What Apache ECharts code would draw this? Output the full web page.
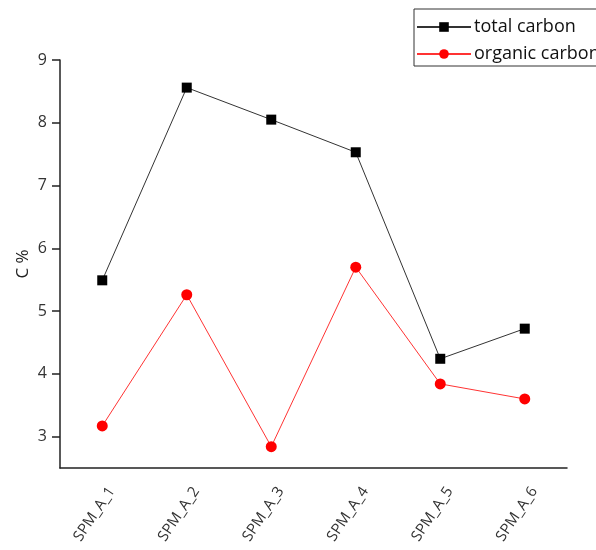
<!DOCTYPE html>
<html>
<head>
<meta charset="utf-8">
<script src="https://cdn.jsdelivr.net/npm/echarts@6/dist/echarts.min.js"></script>
<style>
html,body{margin:0;padding:0;background:#fff;}
#chart{width:596px;height:550px;}
</style>
</head>
<body>
<div id="chart"></div>
<script>
const categories = ['SPM_A_1','SPM_A_2','SPM_A_3','SPM_A_4','SPM_A_5','SPM_A_6'];
const totalCarbon = [5.49, 8.56, 8.05, 7.53, 4.24, 4.72];
const organicCarbon = [3.17, 5.26, 2.84, 5.70, 3.84, 3.60];
const yTicks = [3, 4, 5, 6, 7, 8, 9];

const font = '"Open Sans", "DejaVu Sans", sans-serif';
const chart = echarts.init(document.getElementById('chart'));
chart.setOption({
  animation: false,
  backgroundColor: '#ffffff',
  textStyle: { fontFamily: font },
  grid: { left: 60, right: 29, top: 60, bottom: 82, containLabel: false },
  legend: {
    orient: 'vertical',
    left: 414,
    top: 9,
    padding: [9, 40, 3, 2],
    borderColor: '#333',
    borderWidth: 1,
    itemWidth: 54,
    itemHeight: 12,
    itemGap: 9,
    textStyle: { fontFamily: font, fontSize: 18, color: '#111', padding: [0, 0, 0, -2] },
    data: ['total carbon', 'organic carbon']
  },
  xAxis: {
    type: 'category',
    data: categories,
    boundaryGap: true,
    axisLine: { lineStyle: { color: '#222', width: 1.5 } },
    axisTick: { alignWithLabel: true, length: 8, lineStyle: { color: '#222', width: 1.5 } },
    axisLabel: { rotate: 56, fontSize: 15, color: '#333', margin: 14, verticalAlign: 'top', padding: [4, 0, 0, 0], fontFamily: font }
  },
  yAxis: {
    type: 'value',
    min: 2.5,
    max: 9,
    name: 'C %',
    nameLocation: 'middle',
    nameGap: 28,
    nameMoveOverlap: false,
    nameTextStyle: { fontSize: 17, color: '#222', fontFamily: font },
    splitLine: { show: false },
    axisLine: { show: true, lineStyle: { color: '#222', width: 1.5 } },
    axisTick: { show: true, length: 8, customValues: yTicks, lineStyle: { color: '#222', width: 1.5 } },
    axisLabel: { fontSize: 16, color: '#333', margin: 13, customValues: yTicks, fontFamily: font }
  },
  series: [
    {
      name: 'total carbon',
      type: 'line',
      data: totalCarbon,
      symbol: 'rect',
      symbolSize: 10,
      itemStyle: { color: '#000' },
      lineStyle: { color: '#333', width: 1 }
    },
    {
      name: 'organic carbon',
      type: 'line',
      data: organicCarbon,
      symbol: 'circle',
      symbolSize: 11,
      itemStyle: { color: '#ff0000' },
      lineStyle: { color: '#ff3333', width: 1 }
    }
  ]
});
</script>
</body>
</html>
